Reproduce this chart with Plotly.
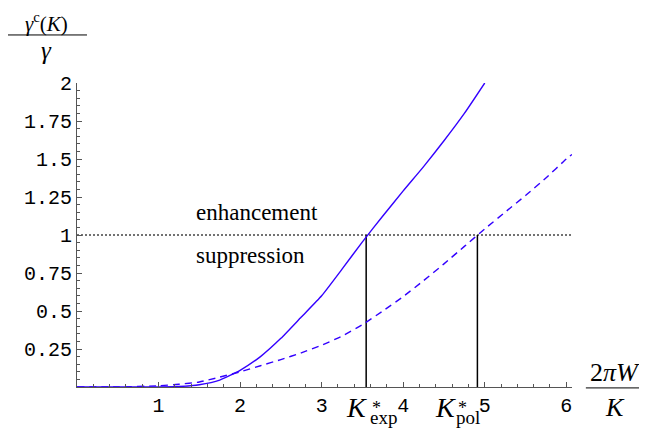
import plotly.graph_objects as go

# ---- data ----
x_vals = [0.0, 0.5, 1.0, 1.25, 1.5, 1.75, 2.0, 2.25, 2.5, 2.75, 3.0, 3.25, 3.5, 3.75,
          4.0, 4.25, 4.5, 4.75, 5.0, 5.25, 5.5, 5.75, 6.0, 6.07]
solid_y = [0.0, 0.0, 0.0, 0.003, 0.015, 0.045, 0.11, 0.20, 0.32, 0.46, 0.60, 0.775, 0.955, 1.125,
           1.29, 1.45, 1.62, 1.80, 2.0]
dashed_y = [0.0, 0.0, 0.008, 0.018, 0.033, 0.065, 0.10, 0.14, 0.18, 0.225, 0.275, 0.335, 0.41, 0.50,
            0.595, 0.70, 0.81, 0.925, 1.04, 1.15, 1.26, 1.375, 1.50, 1.53]
K_exp = 3.546
K_pol = 4.91
level = 1.0
x_ticks = [1, 2, 3, 4, 5, 6]
x_ticktext = ["1", "2", "3", "4", "5", "6"]
y_ticks = [0.25, 0.5, 0.75, 1, 1.25, 1.5, 1.75, 2]
y_ticktext = ["0.25", "0.5", "0.75", "1", "1.25", "1.5", "1.75", "2"]

X0, X1 = 0, 6.07
Y0, Y1 = 0, 2.0

blue = "#3300ff"
serif = "Liberation Serif"
mono = "Liberation Mono"

fig = go.Figure()
fig.add_trace(go.Scatter(x=[X0, X1], y=[level, level], mode="lines",
                         line=dict(color="#444444", width=1.5, dash="2px,2px"),
                         hoverinfo="skip", showlegend=False))
for k in (K_exp, K_pol):
    fig.add_trace(go.Scatter(x=[k, k], y=[Y0, level], mode="lines",
                             line=dict(color="black", width=1.5),
                             hoverinfo="skip", showlegend=False))
fig.add_trace(go.Scatter(x=x_vals[:len(solid_y)], y=solid_y, mode="lines",
                         line=dict(color=blue, width=1.4, shape="spline", smoothing=0.5),
                         showlegend=False))
fig.add_trace(go.Scatter(x=x_vals[:len(dashed_y)], y=dashed_y, mode="lines",
                         line=dict(color=blue, width=1.4, dash="7px,5px", shape="spline",
                                   smoothing=0.5), showlegend=False))

axis_common = dict(showgrid=False, zeroline=False, showline=True, linecolor="#555555",
                   linewidth=1.2, ticks="inside", ticklen=5, tickcolor="#555555",
                   tickwidth=1, tickfont=dict(family=mono, size=20, color="black"))
fig.update_xaxes(range=[X0, X1], tickmode="array", tickvals=x_ticks, ticktext=x_ticktext,
                 minor=dict(dtick=0.2, tick0=0, ticks="inside", ticklen=3,
                            tickcolor="#555555", showgrid=False),
                 **axis_common)
fig.update_yaxes(range=[Y0, Y1], tickmode="array", tickvals=y_ticks, ticktext=y_ticktext,
                 minor=dict(dtick=0.05, tick0=0, ticks="inside", ticklen=3,
                            tickcolor="#555555", showgrid=False),
                 **axis_common)

ann = []
ann.append(dict(text="<i>γ</i><sup>c</sup>(<i>K</i>)", x=-0.0626, y=1.199, xref="paper",
                yref="paper", showarrow=False, font=dict(family=serif, size=21, color="black"),
                xanchor="center", yanchor="middle"))
ann.append(dict(text="<i>γ</i>", x=-0.0626, y=1.108, xref="paper", yref="paper",
                showarrow=False, font=dict(family=serif, size=25, color="black"),
                xanchor="center", yanchor="middle"))
ann.append(dict(text="2<i>πW</i>", x=1.087, y=0.047, xref="paper", yref="paper",
                showarrow=False, font=dict(family=serif, size=26, color="black"),
                xanchor="center", yanchor="middle"))
ann.append(dict(text="<i>K</i>", x=1.087, y=-0.068, xref="paper", yref="paper",
                showarrow=False, font=dict(family=serif, size=26, color="black"),
                xanchor="center", yanchor="middle"))
ann.append(dict(text="enhancement", x=1.44, y=1.145, xref="x", yref="y", showarrow=False,
                font=dict(family=serif, size=23, color="black"), xanchor="left", yanchor="middle"))
ann.append(dict(text="suppression", x=1.44, y=0.862, xref="x", yref="y", showarrow=False,
                font=dict(family=serif, size=23, color="black"), xanchor="left", yanchor="middle"))

# K* labels below the axis (paper coordinates so they are not hidden off-range)
for k, sub, k_off, sub_off, star_off in ((K_exp, "exp", -22, 2, 4), (K_pol, "pol", -44, -23, -21)):
    px = (k - X0) / (X1 - X0)
    ann.append(dict(text="<i>K</i>", x=px, xshift=k_off, y=-0.069, xref="paper", yref="paper",
                    showarrow=False, font=dict(family=serif, size=28, color="black"),
                    xanchor="left", yanchor="middle"))
    ann.append(dict(text=sub, x=px, xshift=sub_off, y=-0.1, xref="paper", yref="paper",
                    showarrow=False, font=dict(family=serif, size=19, color="black"),
                    xanchor="left", yanchor="middle"))
    ann.append(dict(text="*", x=px, xshift=star_off, y=-0.069, xref="paper", yref="paper",
                    showarrow=False, font=dict(family=serif, size=18, color="black"),
                    xanchor="left", yanchor="middle"))

shapes = [
    dict(type="line", xref="paper", yref="paper", x0=-0.1414, x1=0.0202, y0=1.158, y1=1.158,
         line=dict(color="black", width=1)),
    dict(type="line", xref="paper", yref="paper", x0=1.028, x1=1.147, y0=-0.003, y1=-0.003,
         line=dict(color="black", width=1)),
]

# figure is placed at an 8px page margin, so it is sized to fit the 647x437 window
fig.update_layout(width=639, height=429, margin=dict(l=69, r=75, t=75, b=50),
                  plot_bgcolor="white", paper_bgcolor="white",
                  annotations=ann, shapes=shapes, showlegend=False)
fig.write_html("out.html")
